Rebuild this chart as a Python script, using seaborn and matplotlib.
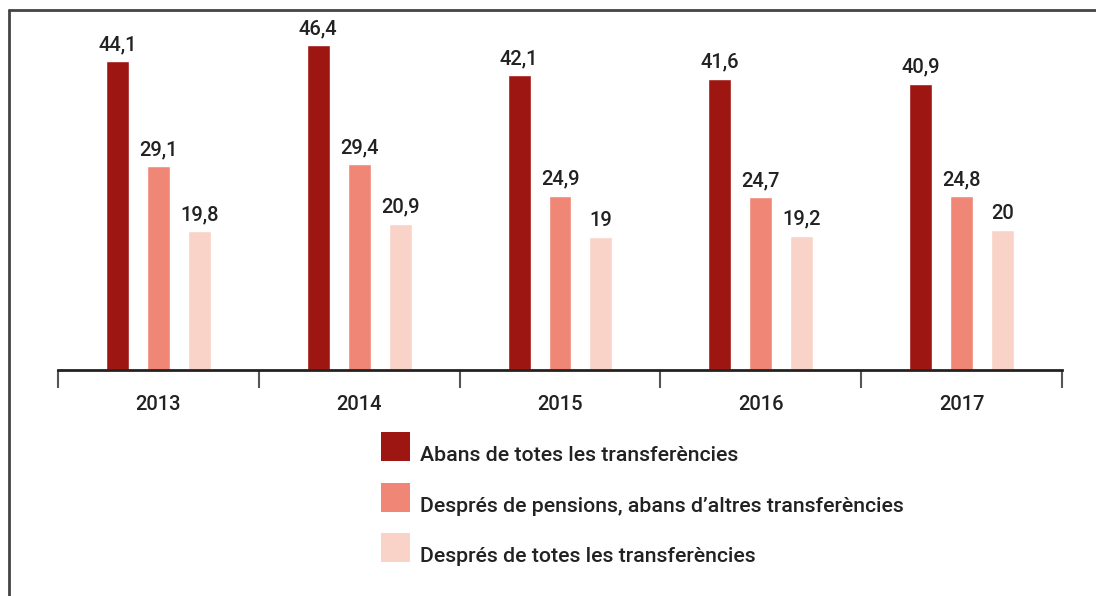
import matplotlib
matplotlib.use("Agg")
import matplotlib.pyplot as plt
from matplotlib.lines import Line2D
from matplotlib.patches import Rectangle
import seaborn as sns
import pandas as pd

years = ["2013", "2014", "2015", "2016", "2017"]
series = [
    "Abans de totes les transferències",
    "Després de pensions, abans d’altres transferències",
    "Després de totes les transferències",
]
before_all = [44.1, 46.4, 42.1, 41.6, 40.9]
after_pensions = [29.1, 29.4, 24.9, 24.7, 24.8]
after_all = [19.8, 20.9, 19.0, 19.2, 20.0]
colors = ["#9E1612", "#F08676", "#F9D3C8"]

sns.set_theme(style="white")
plt.rcParams["font.family"] = ["Roboto", "DejaVu Sans"]
plt.rcParams["font.weight"] = "medium"
text_color = "#222222"

df = pd.DataFrame({
    "year": years * 3,
    "serie": [series[0]] * 5 + [series[1]] * 5 + [series[2]] * 5,
    "value": before_all + after_pensions + after_all,
})

W, H = 1096, 596
fig = plt.figure(figsize=(W / 100, H / 100), dpi=100)
ax = fig.add_axes([58 / W, 1 - 370 / H, (1062 - 58) / W, (370 - 20) / H])

sns.barplot(data=df, x="year", y="value", hue="serie", order=years,
            hue_order=series, palette=colors, width=0.612, gap=0.44,
            saturation=1, errorbar=None, legend=False, ax=ax)

for cont in ax.containers:
    ax.bar_label(cont, labels=[f"{b.get_height():g}".replace(".", ",") for b in cont],
                 padding=5, fontsize=14.5, color=text_color, fontweight="medium")

ax.set_xlim(-0.5, 4.5)
ax.set_ylim(0, 50)
ax.set_xlabel("")
ax.set_ylabel("")
ax.set_yticks([])
for s in ["top", "right", "left"]:
    ax.spines[s].set_visible(False)
ax.spines["bottom"].set_color(text_color)
ax.spines["bottom"].set_linewidth(2)

ax.set_xticks(range(len(years)))
ax.set_xticklabels(years, fontsize=14.5, color=text_color, fontweight="medium")
ax.tick_params(axis="x", which="major", length=0, pad=18)
ax.set_xticks([i - 0.5 for i in range(len(years) + 1)], minor=True)
ax.tick_params(axis="x", which="minor", length=13, width=1.5,
               color="#555555", direction="out", bottom=True)

# Legend: colour squares with labels, one row per series
sq_left, sq_size, row_step, first_top = 381, 29, 50.5, 432
for i, (label, c) in enumerate(zip(series, colors)):
    top = first_top + i * row_step
    fig.add_artist(Rectangle((sq_left / W, 1 - (top + sq_size) / H),
                             sq_size / W, sq_size / H, facecolor=c,
                             edgecolor="none", transform=fig.transFigure))
    fig.text(420 / W, 1 - (top + sq_size) / H, label, fontsize=15.3,
             fontweight="medium", color=text_color, ha="left", va="baseline")

# Outer frame: left and top edges
frame_kw = dict(color="#444444", linewidth=2, transform=fig.transFigure)
fig.add_artist(Line2D([9 / W, 9 / W], [0, 1 - 10 / H], **frame_kw))
fig.add_artist(Line2D([9 / W, 1], [1 - 10 / H, 1 - 10 / H], **frame_kw))

fig.savefig("out.png", dpi=100)
